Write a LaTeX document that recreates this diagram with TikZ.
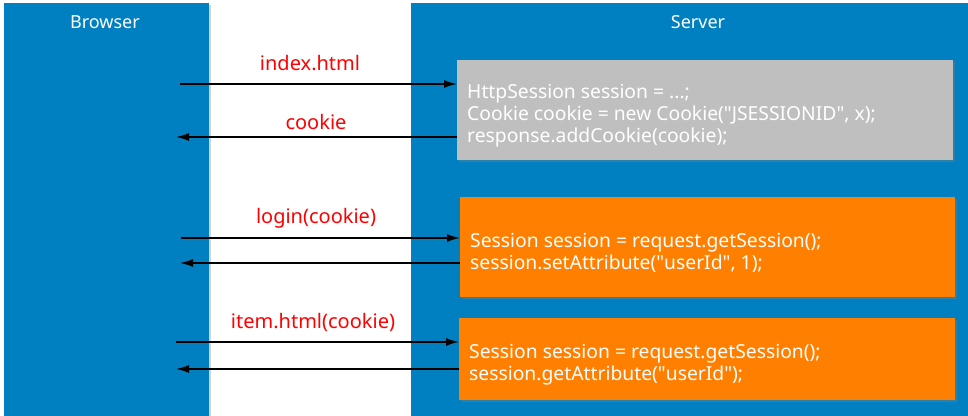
\documentclass[tikz,border=0pt]{standalone}
\usepackage{fontspec}
\setmainfont{Noto Sans}
\usetikzlibrary{shadows,arrows.meta}
\definecolor{sblue}{HTML}{0080C0}
\definecolor{sgrey}{HTML}{BFBFBF}
\definecolor{sorange}{HTML}{FF8000}
\newcommand{\dq}{\textquotedbl}
\begin{document}
\begin{tikzpicture}[x=1pt,y=-1pt,
  panel/.style={fill=sblue,draw=none,drop shadow={shadow xshift=2pt,shadow yshift=-2pt,opacity=0.35}},
  codebox/.style={draw=none,drop shadow={shadow xshift=2pt,shadow yshift=-2pt,opacity=0.35}},
  title/.style={text=white,font=\fontsize{18}{20}\selectfont},
  code/.style={text=white,font=\fontsize{19.3}{21.8}\selectfont,align=left,anchor=west,inner sep=0pt},
  lbl/.style={text=red,font=\fontsize{20}{22}\selectfont},
  msg/.style={line width=1.6pt,-{Latex[length=13pt,width=8pt]}}]
\useasboundingbox (0,0) rectangle (968,415);
\fill[white] (0,0) rectangle (968,415);
% panels
\path[panel] (4,3) rectangle (209,418);
\path[panel] (411,3) rectangle (971,418);
\node[title] (browser) at (105,22) {Browser};
\node[title] (server) at (698,22) {Server};
% boxes
\node[codebox,fill=sgrey,minimum width=496pt,minimum height=100pt,anchor=north west,inner sep=0pt] (g1) at (457,60) {};
\node[codebox,fill=sorange,minimum width=495pt,minimum height=100pt,anchor=north west,inner sep=0pt] (o1) at (460,197) {};
\node[codebox,fill=sorange,minimum width=496pt,minimum height=82pt,anchor=north west,inner sep=0pt] (o2) at (459,318) {};
\node[code] (t1) at (467,116) {HttpSession session = ...;\\Cookie cookie = new Cookie(\dq JSESSIONID\dq, x);\\response.addCookie(cookie);};
\node[code] (t2) at (470,253) {Session session = request.getSession();\\session.setAttribute(\dq userId\dq, 1);};
\node[code] (t3) at (469,365) {Session session = request.getSession();\\session.getAttribute(\dq userId\dq);};
% browser-side coordinates
\coordinate (a1) at (180,84);
\coordinate (a2) at (176,137);
\coordinate (a3) at (181,238);
\coordinate (a4) at (180,263);
\coordinate (a5) at (176,342);
\coordinate (a6) at (176,369);
\draw[msg] (a1) -- (a1 -| g1.west);
\draw[msg] (a2 -| g1.west) -- (a2);
\draw[msg] (a3) -- (a3 -| o1.west);
\draw[msg] (a4 -| o1.west) -- (a4);
\draw[msg] (a5) -- (a5 -| o2.west);
\draw[msg] (a6 -| o2.west) -- (a6);
% labels
\node[lbl] (l1) at (310,63) {index.html};
\node[lbl] (l2) at (316,122) {cookie};
\node[lbl] (l3) at (316,218) {login(cookie)};
\node[lbl] (l4) at (313,322) {item.html(cookie)};
\end{tikzpicture}
\end{document}
